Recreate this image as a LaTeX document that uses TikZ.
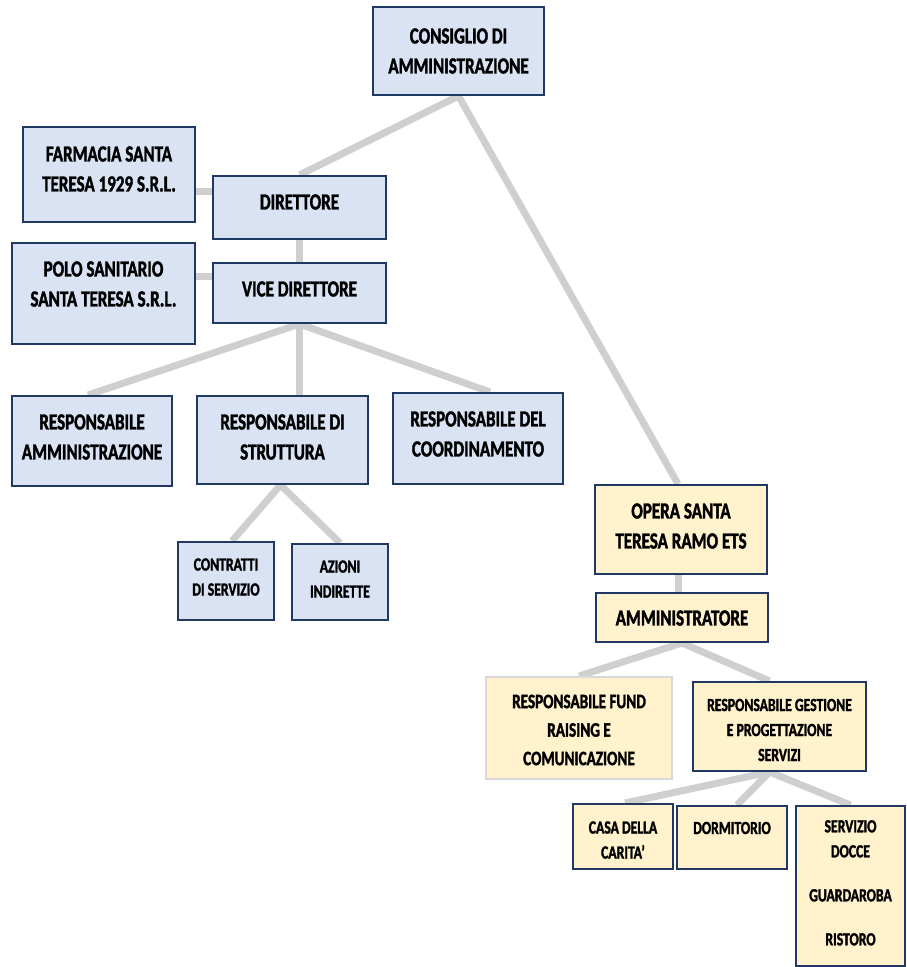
\documentclass[tikz,border=0pt]{standalone}
\usepackage{fontspec}
\setmainfont{Carlito}[FakeStretch=0.74]
\newfontfamily\hbf{Carlito Bold}[FakeStretch=0.74,FakeBold=1.6]
\usetikzlibrary{calc}
\pgfdeclarelayer{bg}
\pgfsetlayers{bg,main}
\definecolor{bfill}{HTML}{DAE3F3}
\definecolor{yfill}{HTML}{FFF2CC}
\definecolor{edgec}{HTML}{1F3864}
\definecolor{conn}{HTML}{CFCFCF}
\definecolor{lightedge}{HTML}{D9D9D9}
\tikzset{
  box/.style={draw=edgec, line width=2pt, inner sep=0pt},
  bbox/.style={box, fill=bfill},
  ybox/.style={box, fill=yfill},
  lab/.style={align=center, font=\hbf\fontsize{23}{30}\selectfont, inner sep=0pt},
  labm/.style={align=center, font=\hbf\fontsize{20.5}{28.5}\selectfont, inner sep=0pt},
  labs/.style={align=center, font=\hbf\fontsize{18.5}{25}\selectfont, inner sep=0pt},
  link/.style={draw=conn, line width=7pt},
}
\begin{document}
\begin{tikzpicture}[x=1pt,y=-1pt]
\useasboundingbox (0,0) rectangle (907,967);
% boxes
\node[bbox, minimum width=171pt, minimum height=88pt] (cda) at (458.5,51) {};
\node[lab] (cdat) at (458.5,51) {CONSIGLIO DI\\AMMINISTRAZIONE};
\node[bbox, minimum width=172pt, minimum height=95pt] (farm) at (109,174.5) {};
\node[lab] (farmt) at (109,169) {FARMACIA SANTA\\TERESA 1929 S.R.L.};
\node[bbox, minimum width=173pt, minimum height=63pt] (dir) at (299.5,207.5) {};
\node[lab] (dirt) at (299.5,202) {DIRETTORE};
\node[bbox, minimum width=183pt, minimum height=101pt] (polo) at (103.5,293.5) {};
\node[lab] (polot) at (103.5,284) {POLO SANITARIO\\SANTA TERESA S.R.L.};
\node[bbox, minimum width=173pt, minimum height=60pt] (vice) at (299.5,293) {};
\node[lab] (vicet) at (299.5,289) {VICE DIRETTORE};
\node[bbox, minimum width=160pt, minimum height=90pt] (ramm) at (92,441) {};
\node[lab] (rammt) at (92,437) {RESPONSABILE\\AMMINISTRAZIONE};
\node[bbox, minimum width=171pt, minimum height=88pt] (rstr) at (282.5,440) {};
\node[lab] (rstrt) at (282.5,437) {RESPONSABILE DI\\STRUTTURA};
\node[bbox, minimum width=170pt, minimum height=91pt] (rcoord) at (478,438.5) {};
\node[lab] (rcoordt) at (478,434) {RESPONSABILE DEL\\COORDINAMENTO};
\node[bbox, minimum width=96pt, minimum height=78pt] (contr) at (226,581) {};
\node[labs] (contrt) at (226,577) {CONTRATTI\\DI SERVIZIO};
\node[bbox, minimum width=96pt, minimum height=76pt] (azioni) at (340,582) {};
\node[labs] (azionit) at (340,579) {AZIONI\\INDIRETTE};
\node[ybox, minimum width=172pt, minimum height=89pt] (opera) at (681,529.5) {};
\node[lab] (operat) at (681,526) {OPERA SANTA\\TERESA RAMO ETS};
\node[ybox, minimum width=172pt, minimum height=49pt] (ammin) at (682,617.5) {};
\node[lab] (ammint) at (682,618) {AMMINISTRATORE};
\node[ybox, draw=lightedge, minimum width=186pt, minimum height=102pt] (fund) at (579,728) {};
\node[labm] (fundt) at (579,730) {RESPONSABILE FUND\\RAISING E\\COMUNICAZIONE};
\node[ybox, minimum width=173pt, minimum height=89pt] (gest) at (779.5,726.5) {};
\node[labs] (gestt) at (779.5,730) {RESPONSABILE GESTIONE\\E PROGETTAZIONE\\SERVIZI};
\node[ybox, minimum width=100pt, minimum height=65pt] (casa) at (623,836.5) {};
\node[labs] (casat) at (623,840) {CASA DELLA\\CARITA’};
\node[ybox, minimum width=110pt, minimum height=63pt] (dorm) at (732,837.5) {};
\node[labs] (dormt) at (732,828) {DORMITORIO};
\node[ybox, minimum width=109pt, minimum height=160pt] (serv) at (850.5,886) {};
\node[labs, anchor=north] (servt) at (850.5,820) {SERVIZIO\\DOCCE\\[19pt]GUARDAROBA\\[19pt]RISTORO};
% connectors
\begin{pgfonlayer}{bg}
\draw[link] (cda.south) -- (dir.north);
\draw[link] (cda.south) -- ($(opera.north)+(-3,0)$);
\draw[link] (farm.east |- 0,191) -- (dir.west |- 0,191);
\draw[link] (polo.east |- 0,276) -- (vice.west |- 0,276);
\draw[link] (dir.south) -- (vice.north);
\draw[link] (vice.south) -- ($(ramm.north)+(-4,0)$);
\draw[link] (vice.south) -- (vice.south |- rstr.north);
\draw[link] (vice.south) -- ($(rcoord.north)+(12,0)$);
\draw[link] ($(rstr.south)+(-2,0)$) -- ($(contr.north)+(6,0)$);
\draw[link] ($(rstr.south)+(-2,0)$) -- (azioni.north);
\draw[link] ($(opera.south)+(-3,0)$) -- ($(ammin.north)+(-4,0)$);
\draw[link] (ammin.south) -- (fund.north);
\draw[link] (ammin.south) -- ($(gest.north)+(-10,0)$);
\draw[link] ($(gest.south)+(-10,0)$) -- ($(casa.north)+(2,0)$);
\draw[link] ($(gest.south)+(-10,0)$) -- ($(dorm.north)+(5,0)$);
\draw[link] ($(gest.south)+(-10,0)$) -- (serv.north);
\end{pgfonlayer}
\end{tikzpicture}
\end{document}
